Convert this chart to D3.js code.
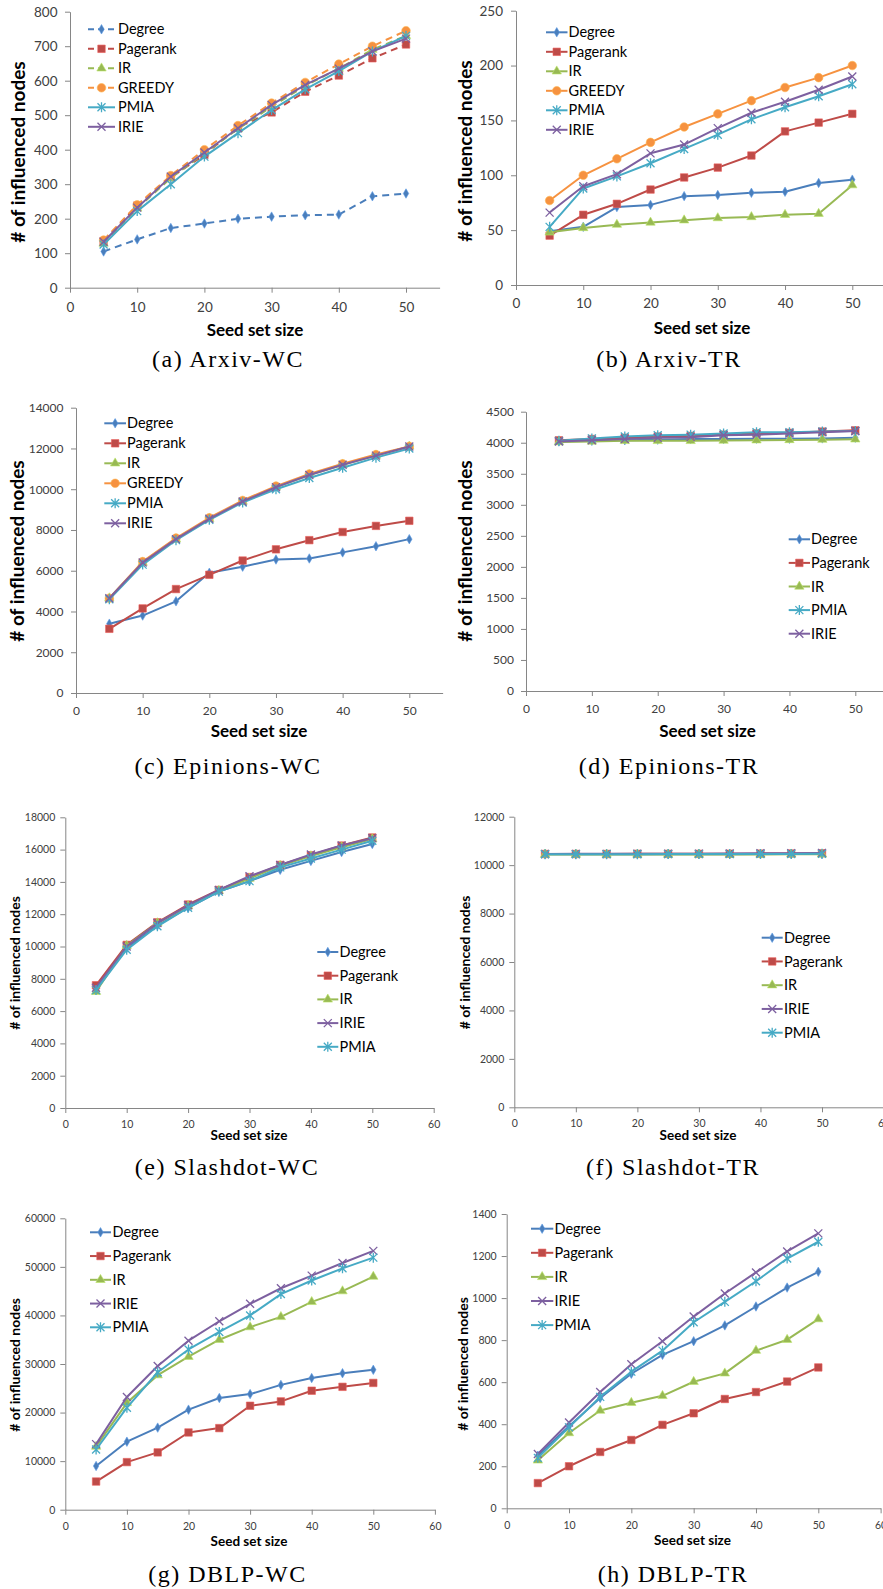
<!DOCTYPE html>
<html>
<head>
<meta charset="utf-8">
<script src="https://cdnjs.cloudflare.com/ajax/libs/d3/7.8.5/d3.min.js"></script>
<style>
html,body{margin:0;padding:0;background:#fff;}
svg{display:block;}
</style>
</head>
<body>
<script>
// ---------------- DATA ----------------
const seedSizes = [5,10,15,20,25,30,35,40,45,50];

// (a) Arxiv-WC
const arxivWC_Degree   = [105,140,173,186,200,206,210,212,265,273];
const arxivWC_Pagerank = [135,238,320,385,465,508,568,615,665,705];
const arxivWC_IR       = [128,230,318,390,460,525,585,635,690,730];
const arxivWC_GREEDY   = [138,240,325,400,470,535,595,648,700,745];
const arxivWC_PMIA     = [125,222,300,380,448,515,575,628,685,730];
const arxivWC_IRIE     = [133,232,322,392,462,530,588,635,685,722];

// (b) Arxiv-TR
const arxivTR_Degree   = [49,53,71,73,81,82,84,85,93,96];
const arxivTR_Pagerank = [45,64,74,87,98,107,118,140,148,156];
const arxivTR_IR       = [48,52,55,57,59,61,62,64,65,91];
const arxivTR_GREEDY   = [77,100,115,130,144,156,168,180,189,200];
const arxivTR_PMIA     = [53,88,99,111,124,137,151,162,172,183];
const arxivTR_IRIE     = [66,90,101,120,128,143,157,167,178,190];

// (c) Epinions-WC
const epinWC_Degree   = [3400,3800,4500,5900,6200,6550,6600,6900,7200,7550];
const epinWC_Pagerank = [3150,4150,5100,5800,6500,7050,7500,7900,8200,8450];
const epinWC_IR       = [4650,6400,7550,8550,9400,10100,10700,11200,11650,12100];
const epinWC_GREEDY   = [4650,6450,7600,8600,9450,10150,10750,11250,11700,12100];
const epinWC_PMIA     = [4600,6300,7500,8500,9350,10000,10550,11050,11550,12000];
const epinWC_IRIE     = [4650,6400,7550,8550,9400,10100,10700,11200,11650,12100];

// (d) Epinions-TR
const epinTR_Degree   = [4020,4030,4040,4050,4060,4060,4065,4065,4070,4080];
const epinTR_Pagerank = [4040,4060,4080,4100,4110,4130,4150,4160,4180,4200];
const epinTR_IR       = [4010,4020,4030,4030,4030,4035,4040,4045,4050,4055];
const epinTR_PMIA     = [4030,4070,4100,4120,4130,4150,4170,4170,4180,4190];
const epinTR_IRIE     = [4020,4040,4060,4080,4090,4120,4130,4150,4170,4190];

// (e) Slashdot-WC
const slashWC_Degree   = [7350,9900,11300,12400,13400,14050,14750,15300,15850,16350];
const slashWC_Pagerank = [7600,10100,11500,12600,13500,14300,15050,15650,16250,16750];
const slashWC_IR       = [7200,10050,11450,12500,13450,14200,15000,15600,16150,16650];
const slashWC_IRIE     = [7450,10000,11450,12550,13500,14350,15050,15700,16250,16700];
const slashWC_PMIA     = [7300,9800,11250,12400,13400,14050,14900,15450,16000,16550];

// (f) Slashdot-TR
const slashTR_Degree   = [10450,10450,10450,10450,10450,10450,10450,10455,10455,10460];
const slashTR_Pagerank = [10460,10460,10460,10465,10465,10465,10470,10475,10480,10490];
const slashTR_IR       = [10440,10440,10440,10440,10440,10440,10440,10440,10445,10445];
const slashTR_IRIE     = [10460,10465,10465,10470,10470,10475,10480,10490,10495,10505];
const slashTR_PMIA     = [10450,10450,10450,10450,10455,10455,10455,10460,10460,10465];

// (g) DBLP-WC
const dblpWC_Degree   = [9000,14000,16900,20600,23000,23800,25700,27100,28100,28800];
const dblpWC_Pagerank = [5800,9800,11800,15900,16800,21400,22300,24500,25300,26100];
const dblpWC_IR       = [13000,22000,27700,31500,35000,37600,39700,42800,45000,48000];
const dblpWC_IRIE     = [13500,23200,29600,34800,38800,42400,45600,48200,50800,53300];
const dblpWC_PMIA     = [12400,21000,28300,33000,36600,40000,44400,47200,49700,51900];

// (h) DBLP-TR
const dblpTR_Degree   = [250,390,525,640,730,795,870,960,1050,1125];
const dblpTR_Pagerank = [120,200,268,325,397,452,520,553,603,670];
const dblpTR_IR       = [228,358,465,502,535,602,642,750,802,900];
const dblpTR_IRIE     = [258,408,553,685,795,912,1022,1122,1222,1308];
const dblpTR_PMIA     = [240,385,530,650,750,885,982,1080,1188,1268];

const xTicks50 = [0,10,20,30,40,50];
const xTicks60 = [0,10,20,30,40,50,60];
const captions = ["(a)  Arxiv-WC","(b)  Arxiv-TR","(c)  Epinions-WC","(d)  Epinions-TR",
                  "(e)  Slashdot-WC","(f)  Slashdot-TR","(g)  DBLP-WC","(h)  DBLP-TR"];
const xTitle = "Seed set size";
const yTitle = "# of influenced nodes";

// ---------------- STYLE ----------------
const style = {
  Degree:   {color:"#4A7EBB", marker:"diamond"},
  Pagerank: {color:"#BE4B48", marker:"square"},
  IR:       {color:"#98B954", marker:"triangle"},
  GREEDY:   {color:"#F69240", marker:"circle"},
  PMIA:     {color:"#46AAC5", marker:"asterisk"},
  IRIE:     {color:"#7D60A0", marker:"cross"}
};

const W = 883, H = 1589;
const svg = d3.select("body").append("svg").attr("width", W).attr("height", H);
const FONT = "Lato, 'Open Sans', sans-serif";

function markerPath(type){
  switch(type){
    case "diamond": return d3.symbol(d3.symbolDiamond, 26)();
    case "square": return d3.symbol(d3.symbolSquare, 56)();
    case "triangle": return d3.symbol(d3.symbolTriangle, 38)();
    case "circle": return d3.symbol(d3.symbolCircle, 58)();
    case "cross": return "M-4,-4L4,4M-4,4L4,-4";
    case "asterisk": return "M-4,-4L4,4M-4,4L4,-4M0,-5L0,5";
  }
}

function drawMarker(g, type, color, cx, cy){
  const p = g.append("path").attr("d", markerPath(type)).attr("transform", `translate(${cx},${cy})`);
  if (type === "cross" || type === "asterisk") {
    p.attr("fill","none").attr("stroke", color).attr("stroke-width", 1.3);
  } else {
    p.attr("fill", color).attr("stroke", d3.color(color).brighter(0.6)).attr("stroke-width", 0.6);
  }
}

function drawPanel(p){
  const g = svg.append("g");
  const xEnd = p.left + (p.x50 - p.left) * p.xMax / 50;
  const x = d3.scaleLinear().domain([0, p.xMax]).range([p.left, xEnd]);
  const y = d3.scaleLinear().domain([0, p.yMax]).range([p.y0, p.yTop]);

  // y axis
  const yAx = g.append("g").attr("transform", `translate(${p.left},0)`)
    .call(d3.axisLeft(y).tickValues(d3.range(0, p.yMax + 1, p.yStep)).tickSize(5).tickSizeOuter(0).tickPadding(p.yPad).tickFormat(d3.format("d")));
  // x axis
  const xPad = (p.xLabelY - p.y0) - 0.36 * p.tickFs - 5;
  const xAx = g.append("g").attr("transform", `translate(0,${p.y0})`)
    .call(d3.axisBottom(x).tickValues(p.xTicks).tickSize(5).tickSizeOuter(0).tickPadding(xPad).tickFormat(d3.format("d")));
  [yAx, xAx].forEach(a => {
    a.select(".domain").attr("stroke", "#868686");
    a.selectAll(".tick line").attr("stroke", "#868686");
    a.selectAll(".tick text").attr("fill", "#404040").style("font-family", FONT).style("font-size", p.tickFs + "px");
  });

  // titles
  g.append("text").attr("x", p.xTitleX).attr("y", p.xTitleY).attr("dy", "0.35em")
    .attr("text-anchor", "middle").style("font-family", FONT).style("font-weight", "bold")
    .style("font-size", p.titleFs + "px").attr("fill", "#000").text(xTitle);
  g.append("text").attr("transform", `translate(${p.yTitleX},${p.yTitleY}) rotate(-90)`).attr("dy", "0.35em")
    .attr("text-anchor", "middle").style("font-family", FONT).style("font-weight", "bold")
    .style("font-size", p.yTitleFs + "px").attr("fill", "#000").text(yTitle);

  // series
  const line = d3.line().x(d => x(d[0])).y(d => y(d[1]));
  p.series.forEach(s => {
    const st = style[s.name];
    const pts = seedSizes.map((v, i) => [v, s.values[i]]);
    const dashed = p.dashed && p.dashed.includes(s.name);
    g.append("path").attr("d", line(pts)).attr("fill", "none").attr("stroke", st.color)
      .attr("stroke-width", 2).attr("stroke-linejoin", "round")
      .attr("stroke-dasharray", dashed ? "7,5" : null);
    pts.forEach(d => drawMarker(g, st.marker, st.color, x(d[0]), y(d[1])));
  });

  // legend
  p.series.forEach((s, i) => {
    const st = style[s.name];
    const ly = p.legend.y0 + i * p.legend.dy;
    const dashed = p.dashed && p.dashed.includes(s.name);
    g.append("line").attr("x1", p.legend.x1).attr("x2", p.legend.x2).attr("y1", ly).attr("y2", ly)
      .attr("stroke", st.color).attr("stroke-width", 2).attr("stroke-dasharray", dashed ? "6,4" : null);
    drawMarker(g, st.marker, st.color, (p.legend.x1 + p.legend.x2) / 2, ly);
    g.append("text").attr("x", p.legend.tx).attr("y", ly).attr("dy", "0.35em")
      .style("font-family", FONT).style("font-size", "14.5px").attr("fill", "#000").text(s.name);
  });

  // caption
  svg.append("text").attr("x", p.capX).attr("y", p.capY).attr("dy", "0.35em").attr("text-anchor", "middle")
    .style("font-family", "'Liberation Serif', 'DejaVu Serif', serif").style("font-size", "24px")
    .style("letter-spacing", "1.5px").attr("fill", "#000").text(p.caption);
}

const panels = [
  {caption: captions[0], left:70, x50:406, xMax:55, xTicks:xTicks50, yTop:11.7, y0:287.7, yMax:800, yStep:100,
   tickFs:13.5, yPad:7.5, xLabelY:307, titleFs:17, yTitleFs:19, xTitleX:255, xTitleY:330, yTitleX:18, yTitleY:152,
   capX:228, capY:359, dashed:["Degree","Pagerank","IR","GREEDY"],
   legend:{x1:88, x2:115, tx:118, y0:29.3, dy:19.5},
   series:[{name:"Degree",values:arxivWC_Degree},{name:"Pagerank",values:arxivWC_Pagerank},{name:"IR",values:arxivWC_IR},
           {name:"GREEDY",values:arxivWC_GREEDY},{name:"PMIA",values:arxivWC_PMIA},{name:"IRIE",values:arxivWC_IRIE}]},
  {caption: captions[1], left:516, x50:852.3, xMax:55, xTicks:xTicks50, yTop:10.7, y0:285, yMax:250, yStep:50,
   tickFs:13.5, yPad:8, xLabelY:303.3, titleFs:17, yTitleFs:19, xTitleX:702, xTitleY:328.3, yTitleX:465, yTitleY:151,
   capX:669, capY:359,
   legend:{x1:546, x2:567.5, tx:568.5, y0:32.3, dy:19.5},
   series:[{name:"Degree",values:arxivTR_Degree},{name:"Pagerank",values:arxivTR_Pagerank},{name:"IR",values:arxivTR_IR},
           {name:"GREEDY",values:arxivTR_GREEDY},{name:"PMIA",values:arxivTR_PMIA},{name:"IRIE",values:arxivTR_IRIE}]},
  {caption: captions[2], left:76, x50:409.3, xMax:55, xTicks:xTicks50, yTop:407.7, y0:693, yMax:14000, yStep:2000,
   tickFs:12, yPad:7.5, xLabelY:710.7, titleFs:17, yTitleFs:19, xTitleX:259, xTitleY:731, yTitleX:17, yTitleY:551,
   capX:228, capY:766,
   legend:{x1:104.3, x2:126, tx:127, y0:423.3, dy:20},
   series:[{name:"Degree",values:epinWC_Degree},{name:"Pagerank",values:epinWC_Pagerank},{name:"IR",values:epinWC_IR},
           {name:"GREEDY",values:epinWC_GREEDY},{name:"PMIA",values:epinWC_PMIA},{name:"IRIE",values:epinWC_IRIE}]},
  {caption: captions[3], left:526, x50:855.3, xMax:55, xTicks:xTicks50, yTop:411.7, y0:691, yMax:4500, yStep:500,
   tickFs:12, yPad:7, xLabelY:708.3, titleFs:17, yTitleFs:19, xTitleX:707.5, xTitleY:731, yTitleX:465, yTitleY:551,
   capX:669, capY:766,
   legend:{x1:788.7, x2:810, tx:811, y0:539.3, dy:23.6},
   series:[{name:"Degree",values:epinTR_Degree},{name:"Pagerank",values:epinTR_Pagerank},{name:"IR",values:epinTR_IR},
           {name:"PMIA",values:epinTR_PMIA},{name:"IRIE",values:epinTR_IRIE}]},
  {caption: captions[4], left:65.3, x50:372.3, xMax:60, xTicks:xTicks60, yTop:817.3, y0:1108, yMax:18000, yStep:2000,
   tickFs:10.5, yPad:5, xLabelY:1124.3, titleFs:13.5, yTitleFs:14, xTitleX:249, xTitleY:1135.3, yTitleX:15, yTitleY:963,
   capX:227, capY:1167,
   legend:{x1:317.3, x2:338.3, tx:339.5, y0:952, dy:23.7},
   series:[{name:"Degree",values:slashWC_Degree},{name:"Pagerank",values:slashWC_Pagerank},{name:"IR",values:slashWC_IR},
           {name:"IRIE",values:slashWC_IRIE},{name:"PMIA",values:slashWC_PMIA}]},
  {caption: captions[5], left:514.3, x50:822, xMax:60, xTicks:xTicks60, yTop:816.7, y0:1107.3, yMax:12000, yStep:2000,
   tickFs:10.5, yPad:5, xLabelY:1123.3, titleFs:13.5, yTitleFs:14, xTitleX:698, xTitleY:1135, yTitleX:465, yTitleY:962.5,
   capX:673, capY:1167,
   legend:{x1:761.7, x2:782.7, tx:784, y0:937.7, dy:23.75},
   series:[{name:"Degree",values:slashTR_Degree},{name:"Pagerank",values:slashTR_Pagerank},{name:"IR",values:slashTR_IR},
           {name:"IRIE",values:slashTR_IRIE},{name:"PMIA",values:slashTR_PMIA}]},
  {caption: captions[6], left:65.3, x50:373.3, xMax:60, xTicks:xTicks60, yTop:1218.3, y0:1509.7, yMax:60000, yStep:10000,
   tickFs:10.5, yPad:5, xLabelY:1526, titleFs:13.5, yTitleFs:14, xTitleX:249, xTitleY:1541, yTitleX:15, yTitleY:1365,
   capX:227.5, capY:1574,
   legend:{x1:90, x2:111, tx:112.5, y0:1232.3, dy:23.75},
   series:[{name:"Degree",values:dblpWC_Degree},{name:"Pagerank",values:dblpWC_Pagerank},{name:"IR",values:dblpWC_IR},
           {name:"IRIE",values:dblpWC_IRIE},{name:"PMIA",values:dblpWC_PMIA}]},
  {caption: captions[7], left:506.7, x50:818.3, xMax:60, xTicks:xTicks60, yTop:1214, y0:1508.3, yMax:1400, yStep:200,
   tickFs:10.5, yPad:5, xLabelY:1525, titleFs:13.5, yTitleFs:14, xTitleX:692.5, xTitleY:1540, yTitleX:463, yTitleY:1364,
   capX:673, capY:1574,
   legend:{x1:531, x2:553.3, tx:554.5, y0:1228.7, dy:24.1},
   series:[{name:"Degree",values:dblpTR_Degree},{name:"Pagerank",values:dblpTR_Pagerank},{name:"IR",values:dblpTR_IR},
           {name:"IRIE",values:dblpTR_IRIE},{name:"PMIA",values:dblpTR_PMIA}]}
];

panels.forEach(drawPanel);
</script>
</body>
</html>
